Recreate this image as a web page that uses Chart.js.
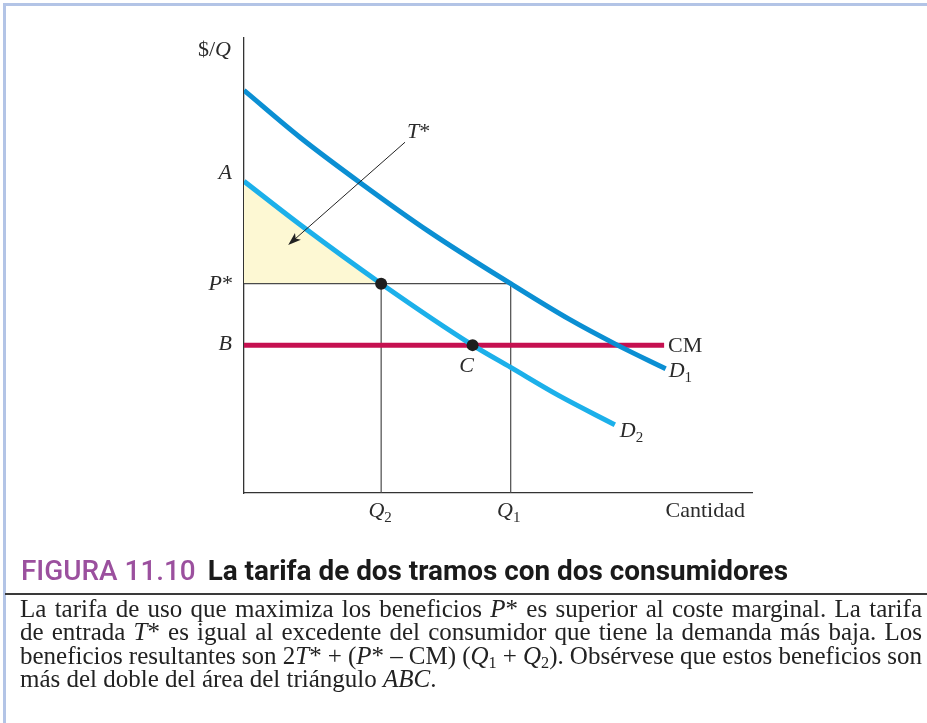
<!DOCTYPE html>
<html lang="es">
<head>
<meta charset="utf-8">
<title>FIGURA 11.10</title>
<script src="https://cdn.jsdelivr.net/npm/chart.js@4.4.1/dist/chart.umd.min.js"></script>
<style>
html,body{margin:0;padding:0;background:#fff;}
body{width:927px;height:723px;position:relative;overflow:hidden;}
#grafico{position:absolute;left:0;top:0;}
.borde-sup{position:absolute;left:3px;top:3px;width:924px;height:3px;background:#b3c4e6;}
.borde-izq{position:absolute;left:3px;top:3px;width:3px;height:720px;background:#b3c4e6;}
.regla{position:absolute;left:5px;top:593px;width:922px;height:2px;background:#3a3a3a;}
#titulo{position:absolute;left:21px;top:556px;white-space:nowrap;font-family:Roboto,"Open Sans",sans-serif;font-size:28px;line-height:30px;transform-origin:0 0;}
#titulo .num{color:#9b509e;font-weight:500;margin-right:12px;}
#titulo .txt{color:#1a1a1a;font-weight:700;}
#pie{position:absolute;left:20px;top:597px;width:902px;font-family:"Liberation Serif",serif;font-size:25px;line-height:23.3px;color:#222;}
#pie div{white-space:nowrap;}
#pie sub{font-size:0.65em;vertical-align:-0.25em;line-height:0;}
</style>
</head>
<body>
<canvas id="grafico" width="927" height="560"></canvas>
<div class="borde-sup"></div>
<div class="borde-izq"></div>
<div id="titulo"><span class="num">FIGURA 11.10</span><span class="txt">La tarifa de dos tramos con dos consumidores</span></div>
<div class="regla"></div>
<div id="pie">
<div><span>La tarifa de uso que maximiza los beneficios <i>P</i>* es superior al coste marginal. La tarifa</span></div>
<div><span>de entrada <i>T</i>* es igual al excedente del consumidor que tiene la demanda más baja. Los</span></div>
<div><span>beneficios resultantes son 2<i>T</i>* + (<i>P</i>* – CM) (<i>Q</i><sub>1</sub> + <i>Q</i><sub>2</sub>). Obsérvese que estos beneficios son</span></div>
<div class="ult"><span>más del doble del área del triángulo <i>ABC</i>.</span></div>
</div>

<script>

/* =============================
DATOS (unidades arbitrarias)
============================= */

// demanda D1 (consumidor alto)
const xD1=[0,1.1,2.3,3.65,5.25,6.4,7.35,8.3];
const yD1=[8.85,7.82,6.81,5.74,4.6,3.82,3.25,2.73];

// demanda D2 (consumidor bajo)
const xD2=[0,1.1,2.7,4.5,5.25,6.2,7.3];
const yD2=[6.85,5.9,4.6,3.25,2.76,2.14,1.5];

const precioP=4.6;    // P*
const costeCM=3.25;   // CM = B
const cantQ2=2.7;
const cantQ1=5.25;
const cantC=4.5;
const finCM=8.27;

// flecha T*: inicio, punta
const flechaT=[[3.17,7.71],[0.87,5.45]];

const ejeX={min:0,max:10};
const ejeY={min:0,max:10};

/* =============================
HELPERS
============================= */

function puntos(xs,ys){
return xs.map((v,i)=>({x:v,y:ys[i]}));
}

const fuente='"Liberation Serif",serif';

function escribir(ctx,partes,px,py,alinear){
// partes: [texto, estilo] estilo n | i | s (subindice)
const fnt=e=>(e==="i"?"italic ":"")+(e==="s"?"15px ":"22px ")+fuente;
let ancho=0;
partes.forEach(p=>{ctx.font=fnt(p[1]);ancho+=ctx.measureText(p[0]).width;});
let x=px;
if(alinear==="right") x=px-ancho;
if(alinear==="center") x=px-ancho/2;
ctx.fillStyle="#2b2b2b";
ctx.textBaseline="alphabetic";
ctx.textAlign="left";
partes.forEach(p=>{
ctx.font=fnt(p[1]);
ctx.fillText(p[0],x,p[1]==="s"?py+5:py);
x+=ctx.measureText(p[0]).width;
});
}

/* =============================
PLUGIN ETIQUETAS + FLECHA
============================= */

const etiquetas={
id:"etiquetas",
afterDatasetsDraw(chart){

const {ctx,scales:{x,y}}=chart;
ctx.save();

const x0=x.getPixelForValue(0);
const yAxis=y.getPixelForValue(0);

escribir(ctx,[["$/","n"],["Q","i"]],x0-13,y.getPixelForValue(ejeY.max)+18,"right");
escribir(ctx,[["A","i"]],x0-12,y.getPixelForValue(yD2[0])-2,"right");
escribir(ctx,[["P","i"],["*","n"]],x0-11,y.getPixelForValue(precioP)+6,"right");
escribir(ctx,[["B","i"]],x0-12,y.getPixelForValue(costeCM)+5,"right");
escribir(ctx,[["C","i"]],x.getPixelForValue(cantC)-6,y.getPixelForValue(costeCM)+27,"center");
escribir(ctx,[["CM","n"]],x.getPixelForValue(finCM)+4,y.getPixelForValue(costeCM)+7,"left");
escribir(ctx,[["D","i"],["1","s"]],x.getPixelForValue(xD1[xD1.length-1])+3,y.getPixelForValue(yD1[yD1.length-1])+8,"left");
escribir(ctx,[["D","i"],["2","s"]],x.getPixelForValue(xD2[xD2.length-1])+5,y.getPixelForValue(yD2[yD2.length-1])+12,"left");
escribir(ctx,[["Q","i"],["2","s"]],x.getPixelForValue(cantQ2)-1,yAxis+24,"center");
escribir(ctx,[["Q","i"],["1","s"]],x.getPixelForValue(cantQ1)-2,yAxis+24,"center");
escribir(ctx,[["Cantidad","n"]],x.getPixelForValue(ejeX.max)-7,yAxis+24,"right");

// flecha
const ax=x.getPixelForValue(flechaT[0][0]);
const ay=y.getPixelForValue(flechaT[0][1]);
const bx=x.getPixelForValue(flechaT[1][0]);
const by=y.getPixelForValue(flechaT[1][1]);
const ang=Math.atan2(by-ay,bx-ax);

ctx.strokeStyle="#222";
ctx.lineWidth=1;
ctx.beginPath();
ctx.moveTo(ax,ay);
ctx.lineTo(bx-Math.cos(ang)*8,by-Math.sin(ang)*8);
ctx.stroke();

ctx.fillStyle="#222";
ctx.beginPath();
ctx.moveTo(bx,by);
ctx.lineTo(bx-Math.cos(ang)*13+Math.sin(ang)*4.5,by-Math.sin(ang)*13-Math.cos(ang)*4.5);
ctx.lineTo(bx-Math.cos(ang)*10,by-Math.sin(ang)*10);
ctx.lineTo(bx-Math.cos(ang)*13-Math.sin(ang)*4.5,by-Math.sin(ang)*13+Math.cos(ang)*4.5);
ctx.closePath();
ctx.fill();

escribir(ctx,[["T","i"],["*","n"]],ax+2,ay-4,"left");

ctx.restore();

}
};

/* =============================
GRAFICO
============================= */

const linea=(datos,color,ancho,orden)=>({
data:datos,
showLine:true,
borderColor:color,
borderWidth:ancho,
pointRadius:0,
fill:false,
order:orden
});

const d1=linea(puntos(xD1,yD1),"#0b8fd3",5,3);
d1.cubicInterpolationMode="monotone";

const d2=linea(puntos(xD2,yD2),"#1cb0ea",5,3);
d2.cubicInterpolationMode="monotone";

// triangulo excedente (A - P* - D2)
const nTri=xD2.filter(v=>v<=cantQ2).length;
const triangulo={
data:puntos(xD2.slice(0,nTri),yD2.slice(0,nTri)),
showLine:true,
borderWidth:0,
borderColor:"rgba(0,0,0,0)",
backgroundColor:"#fdf8d3",
pointRadius:0,
cubicInterpolationMode:"monotone",
fill:{value:precioP},
order:10
};

const guiaP=linea([{x:0,y:precioP},{x:cantQ1,y:precioP}],"#4a4a4a",1.2,8);
const guiaQ2=linea([{x:cantQ2,y:0},{x:cantQ2,y:precioP}],"#4a4a4a",1.2,8);
const guiaQ1=linea([{x:cantQ1,y:0},{x:cantQ1,y:precioP}],"#4a4a4a",1.2,8);

const cm=linea([{x:0,y:costeCM},{x:finCM,y:costeCM}],"#c51050",5,5);

const puntosNegros={
data:[{x:cantQ2,y:precioP},{x:cantC,y:costeCM}],
showLine:false,
pointRadius:6,
pointBackgroundColor:"#1e1e1e",
pointBorderWidth:0,
order:1
};

new Chart(document.getElementById("grafico"),{
type:"scatter",
data:{datasets:[triangulo,guiaP,guiaQ2,guiaQ1,cm,d1,d2,puntosNegros]},
options:{
responsive:false,
animation:false,
devicePixelRatio:1,
layout:{padding:{left:244,top:38,right:175,bottom:67}},
plugins:{legend:{display:false},tooltip:{enabled:false}},
scales:{
x:{
type:"linear",min:ejeX.min,max:ejeX.max,
grid:{display:false,drawTicks:false},
ticks:{display:false},
border:{display:true,color:"#333",width:1.3}
},
y:{
type:"linear",min:ejeY.min,max:ejeY.max,
grid:{display:false,drawTicks:false},
ticks:{display:false},
border:{display:true,color:"#333",width:1.3}
}
}
},
plugins:[etiquetas]
});

/* ajustar ancho del titulo */

const titulo=document.getElementById("titulo");
const anchoT=titulo.getBoundingClientRect().width;
titulo.style.transform="scaleX("+(767/anchoT)+")";

/* justificar lineas del pie al ancho de la caja */

document.querySelectorAll("#pie div:not(.ult) span").forEach(sp=>{
const espacios=(sp.textContent.match(/ /g)||[]).length;
const sobra=902-sp.getBoundingClientRect().width;
sp.style.wordSpacing=(sobra/espacios)+"px";
});

</script>
</body>
</html>
